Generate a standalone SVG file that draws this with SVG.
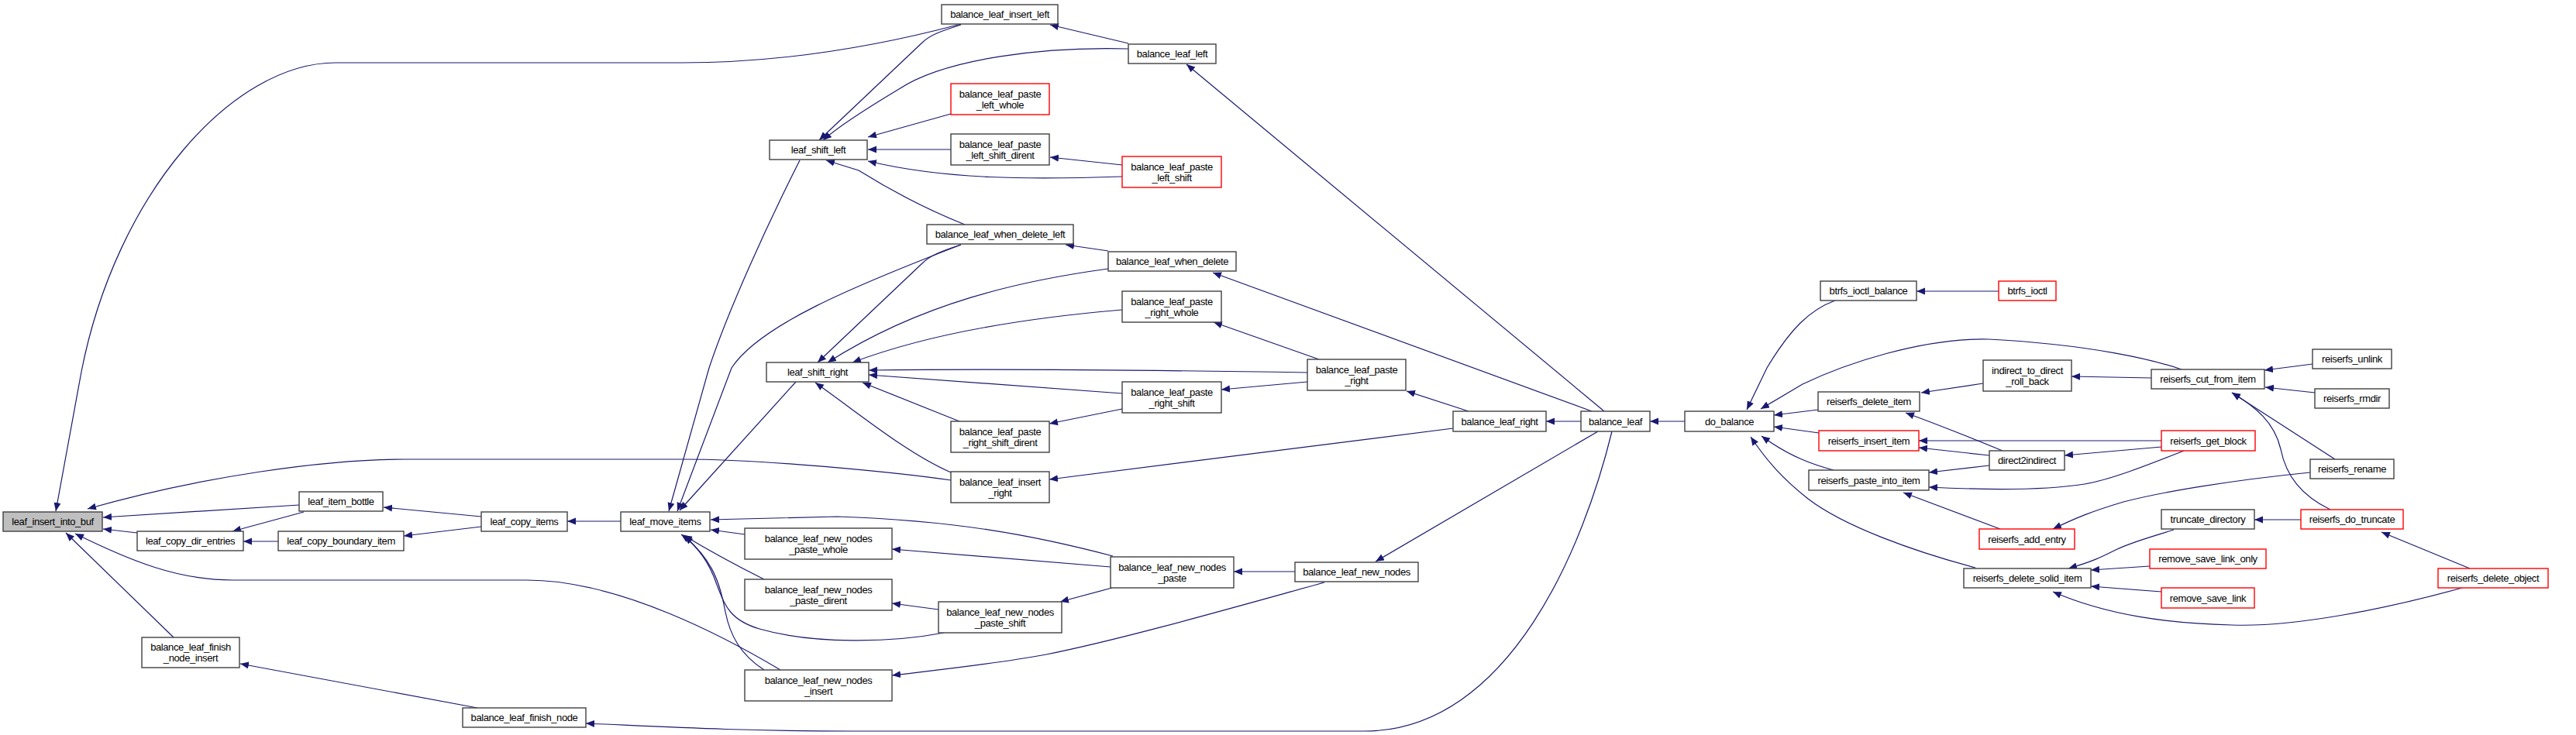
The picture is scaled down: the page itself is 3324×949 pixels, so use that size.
<svg xmlns="http://www.w3.org/2000/svg" width="3324" height="949" viewBox="0 0 3324 949">
<style>
.node rect{fill:#fff;stroke:#404040;stroke-width:1.4}
.red rect{stroke:#ff0000}
.sel rect{fill:#bfbfbf}
text{font-family:"Liberation Sans",Arial,sans-serif;font-size:13px;letter-spacing:-0.4px;text-anchor:middle;fill:#000}
#edges path{fill:none;stroke:#191970;stroke-width:1.2;marker-end:url(#a)}
</style>
<defs>
<marker id="a" markerUnits="userSpaceOnUse" markerWidth="12" markerHeight="10" refX="11" refY="4.5" orient="auto">
<path d="M0,0 L11,4.5 L0,9 z" fill="#191970"/>
</marker>
</defs>
<rect width="3324" height="949" fill="#fff"/>
<g id="edges">
<path d="M1240,31 C1150,55 1020,81 880,81 L433,81 C300,81 150,250 105,480 L72,660"/>
<path d="M386,652 L133,668"/>
<path d="M177,688 L133,683"/>
<path d="M1227,620 C1180,613 1000,593 880,593 L523,593 C420,593 260,615 113,657"/>
<path d="M1007,865 C940,825 800,749 680,749 L300,749 C230,749 170,725 97,689"/>
<path d="M224,823 L85,688"/>
<path d="M392,661 L300,686"/>
<path d="M359,699 L314,699"/>
<path d="M621,667 L495,655"/>
<path d="M621,680 L521,692"/>
<path d="M801,673 L732,673"/>
<path d="M1032,207 C990,290 940,400 915,475 L863,660"/>
<path d="M1240,316 C1100,370 980,420 944,475 L874,660"/>
<path d="M1027,493 L877,659"/>
<path d="M1436,718 C1330,690 1230,672 1080,667 L917,671"/>
<path d="M961,690 L917,684"/>
<path d="M986,748 C950,730 910,708 882,691"/>
<path d="M1218,817 C1150,830 1050,832 980,812 C940,800 935,780 925,755 C915,725 900,705 879,690"/>
<path d="M986,865 C955,845 942,820 936,790 C928,745 915,720 883,692"/>
<path d="M1240,32 C1215,40 1200,45 1190,55 L1057,181"/>
<path d="M1456,63 C1350,60 1220,75 1160,115 C1110,145 1080,165 1062,181"/>
<path d="M1227,147 L1120,177"/>
<path d="M1227,193 L1120,193"/>
<path d="M1448,228 C1330,232 1220,232 1120,208"/>
<path d="M1245,290 C1190,268 1140,240 1108,220 L1066,207"/>
<path d="M1456,56 L1355,32"/>
<path d="M2070,531 L1531,83"/>
<path d="M1448,213 L1355,203"/>
<path d="M1430,324 L1375,316"/>
<path d="M2054,531 L1565,352"/>
<path d="M1240,316 C1215,324 1200,330 1190,340 L1055,468"/>
<path d="M1430,347 C1320,362 1190,390 1068,468"/>
<path d="M1448,400 C1330,410 1200,430 1100,468"/>
<path d="M1687,481 C1500,478 1300,476 1121,478"/>
<path d="M1448,508 L1121,484"/>
<path d="M1238,544 L1113,494"/>
<path d="M1227,610 C1170,585 1110,535 1052,494"/>
<path d="M1702,464 L1566,416"/>
<path d="M1687,493 L1576,503"/>
<path d="M1448,528 L1354,547"/>
<path d="M1895,531 L1815,505"/>
<path d="M1875,553 L1354,619"/>
<path d="M2040,544 L1995,544"/>
<path d="M2062,557 L1775,725"/>
<path d="M2080,557 C2045,700 1950,944 1760,944 L1100,944 C950,944 850,938 756,934"/>
<path d="M616,914 L310,857"/>
<path d="M1671,738 L1592,738"/>
<path d="M1709,752 C1600,782 1450,825 1350,845 C1280,858 1210,865 1151,872"/>
<path d="M1433,732 L1151,709"/>
<path d="M1435,759 L1368,777"/>
<path d="M1211,787 L1151,779"/>
<path d="M2174,544 L2129,544"/>
<path d="M2368,388 C2335,400 2310,425 2280,475 L2254,529"/>
<path d="M2815,477 C2780,465 2700,445 2566,438 C2480,436 2380,470 2326,496 L2272,528"/>
<path d="M2346,529 L2289,536"/>
<path d="M2347,559 L2289,551"/>
<path d="M2366,607 C2340,600 2310,590 2273,563"/>
<path d="M2549,733 C2470,712 2380,680 2333,644 C2300,618 2280,595 2259,564"/>
<path d="M2579,376 L2473,376"/>
<path d="M2559,495 L2479,507"/>
<path d="M2776,488 L2673,486"/>
<path d="M2584,582 C2550,568 2500,548 2459,533"/>
<path d="M2789,569 L2476,569"/>
<path d="M2567,588 L2476,578"/>
<path d="M2789,577 L2664,588"/>
<path d="M2567,601 L2489,610"/>
<path d="M2818,582 C2760,605 2720,620 2690,625 C2640,633 2570,633 2489,629"/>
<path d="M2581,683 L2456,636"/>
<path d="M2981,610 C2880,620 2790,635 2740,648 C2700,660 2680,668 2649,683"/>
<path d="M2805,684 C2780,692 2750,700 2730,710 C2710,720 2700,725 2669,734"/>
<path d="M2774,731 L2698,736"/>
<path d="M2789,764 L2698,757"/>
<path d="M3177,759 C3080,786 2960,810 2880,807 C2800,805 2720,795 2649,764"/>
<path d="M2984,470 L2922,478"/>
<path d="M2987,507 L2923,500"/>
<path d="M3013,593 L2880,507"/>
<path d="M3007,658 C2970,640 2950,615 2943,580 C2935,545 2910,525 2880,507"/>
<path d="M2969,671 L2909,671"/>
<path d="M3187,734 L3073,687"/>
</g>
<g id="n1" class="node sel"><rect x="4" y="661" width="128" height="25"/><text x="68" y="678">leaf_insert_into_buf</text></g>
<g id="n2" class="node"><rect x="177" y="686" width="137" height="25"/><text x="245.5" y="703">leaf_copy_dir_entries</text></g>
<g id="n3" class="node"><rect x="386" y="635" width="108" height="25"/><text x="440" y="652">leaf_item_bottle</text></g>
<g id="n4" class="node"><rect x="359" y="686" width="162" height="25"/><text x="440" y="703">leaf_copy_boundary_item</text></g>
<g id="n5" class="node"><rect x="183" y="823" width="126" height="39"/><text x="246" y="840">balance_leaf_finish</text><text x="246" y="854">_node_insert</text></g>
<g id="n6" class="node"><rect x="621" y="661" width="111" height="25"/><text x="676.5" y="678">leaf_copy_items</text></g>
<g id="n7" class="node"><rect x="801" y="661" width="115" height="25"/><text x="858.5" y="678">leaf_move_items</text></g>
<g id="n8" class="node"><rect x="597" y="914" width="159" height="25"/><text x="676.5" y="931">balance_leaf_finish_node</text></g>
<g id="n9" class="node"><rect x="993" y="181" width="126" height="25"/><text x="1056" y="198">leaf_shift_left</text></g>
<g id="n10" class="node"><rect x="989" y="468" width="132" height="25"/><text x="1055" y="485">leaf_shift_right</text></g>
<g id="n11" class="node"><rect x="961" y="682" width="190" height="40"/><text x="1056" y="699.5">balance_leaf_new_nodes</text><text x="1056" y="713.5">_paste_whole</text></g>
<g id="n12" class="node"><rect x="961" y="748" width="190" height="40"/><text x="1056" y="765.5">balance_leaf_new_nodes</text><text x="1056" y="779.5">_paste_dirent</text></g>
<g id="n13" class="node"><rect x="961" y="865" width="190" height="40"/><text x="1056" y="882.5">balance_leaf_new_nodes</text><text x="1056" y="896.5">_insert</text></g>
<g id="n14" class="node"><rect x="1215" y="6" width="150" height="25"/><text x="1290" y="23">balance_leaf_insert_left</text></g>
<g id="n15" class="node"><rect x="1456" y="57" width="113" height="25"/><text x="1512.5" y="74">balance_leaf_left</text></g>
<g id="n16" class="node red"><rect x="1227" y="108" width="127" height="40"/><text x="1290.5" y="125.5">balance_leaf_paste</text><text x="1290.5" y="139.5">_left_whole</text></g>
<g id="n17" class="node"><rect x="1227" y="173" width="127" height="40"/><text x="1290.5" y="190.5">balance_leaf_paste</text><text x="1290.5" y="204.5">_left_shift_dirent</text></g>
<g id="n18" class="node red"><rect x="1448" y="202" width="128" height="40"/><text x="1512" y="219.5">balance_leaf_paste</text><text x="1512" y="233.5">_left_shift</text></g>
<g id="n19" class="node"><rect x="1196" y="290" width="189" height="25"/><text x="1290.5" y="307">balance_leaf_when_delete_left</text></g>
<g id="n20" class="node"><rect x="1430" y="325" width="165" height="25"/><text x="1512.5" y="342">balance_leaf_when_delete</text></g>
<g id="n21" class="node"><rect x="1448" y="376" width="128" height="40"/><text x="1512" y="393.5">balance_leaf_paste</text><text x="1512" y="407.5">_right_whole</text></g>
<g id="n22" class="node"><rect x="1448" y="493" width="128" height="40"/><text x="1512" y="510.5">balance_leaf_paste</text><text x="1512" y="524.5">_right_shift</text></g>
<g id="n23" class="node"><rect x="1227" y="544" width="127" height="40"/><text x="1290.5" y="561.5">balance_leaf_paste</text><text x="1290.5" y="575.5">_right_shift_dirent</text></g>
<g id="n24" class="node"><rect x="1227" y="609" width="127" height="40"/><text x="1290.5" y="626.5">balance_leaf_insert</text><text x="1290.5" y="640.5">_right</text></g>
<g id="n25" class="node"><rect x="1433" y="719" width="159" height="40"/><text x="1512.5" y="736.5">balance_leaf_new_nodes</text><text x="1512.5" y="750.5">_paste</text></g>
<g id="n26" class="node"><rect x="1211" y="777" width="159" height="40"/><text x="1290.5" y="794.5">balance_leaf_new_nodes</text><text x="1290.5" y="808.5">_paste_shift</text></g>
<g id="n27" class="node"><rect x="1687" y="464" width="127" height="40"/><text x="1750.5" y="481.5">balance_leaf_paste</text><text x="1750.5" y="495.5">_right</text></g>
<g id="n28" class="node"><rect x="1875" y="531" width="120" height="26"/><text x="1935" y="548.5">balance_leaf_right</text></g>
<g id="n29" class="node"><rect x="2040" y="531" width="89" height="26"/><text x="2084.5" y="548.5">balance_leaf</text></g>
<g id="n30" class="node"><rect x="1671" y="726" width="159" height="25"/><text x="1750.5" y="743">balance_leaf_new_nodes</text></g>
<g id="n31" class="node"><rect x="2174" y="531" width="115" height="26"/><text x="2231.5" y="548.5">do_balance</text></g>
<g id="n32" class="node"><rect x="2349" y="363" width="124" height="25"/><text x="2411" y="380">btrfs_ioctl_balance</text></g>
<g id="n33" class="node red"><rect x="2579" y="363" width="74" height="25"/><text x="2616" y="380">btrfs_ioctl</text></g>
<g id="n34" class="node"><rect x="2559" y="465" width="114" height="40"/><text x="2616" y="482.5">indirect_to_direct</text><text x="2616" y="496.5">_roll_back</text></g>
<g id="n35" class="node"><rect x="2346" y="506" width="131" height="25"/><text x="2411.5" y="523">reiserfs_delete_item</text></g>
<g id="n36" class="node red"><rect x="2347" y="556" width="129" height="26"/><text x="2411.5" y="573.5">reiserfs_insert_item</text></g>
<g id="n37" class="node"><rect x="2567" y="582" width="97" height="25"/><text x="2615.5" y="599">direct2indirect</text></g>
<g id="n38" class="node"><rect x="2334" y="607" width="155" height="26"/><text x="2411.5" y="624.5">reiserfs_paste_into_item</text></g>
<g id="n39" class="node red"><rect x="2554" y="683" width="123" height="26"/><text x="2615.5" y="700.5">reiserfs_add_entry</text></g>
<g id="n40" class="node"><rect x="2534" y="734" width="164" height="25"/><text x="2616" y="751">reiserfs_delete_solid_item</text></g>
<g id="n41" class="node"><rect x="2776" y="477" width="146" height="25"/><text x="2849" y="494">reiserfs_cut_from_item</text></g>
<g id="n42" class="node"><rect x="2984" y="451" width="102" height="25"/><text x="3035" y="468">reiserfs_unlink</text></g>
<g id="n43" class="node"><rect x="2987" y="502" width="96" height="25"/><text x="3035" y="519">reiserfs_rmdir</text></g>
<g id="n44" class="node red"><rect x="2789" y="556" width="121" height="26"/><text x="2849.5" y="573.5">reiserfs_get_block</text></g>
<g id="n45" class="node"><rect x="2981" y="593" width="108" height="25"/><text x="3035" y="610">reiserfs_rename</text></g>
<g id="n46" class="node"><rect x="2789" y="658" width="120" height="25"/><text x="2849" y="675">truncate_directory</text></g>
<g id="n47" class="node red"><rect x="2969" y="658" width="132" height="25"/><text x="3035" y="675">reiserfs_do_truncate</text></g>
<g id="n48" class="node red"><rect x="2774" y="709" width="150" height="25"/><text x="2849" y="726">remove_save_link_only</text></g>
<g id="n49" class="node red"><rect x="2789" y="759" width="120" height="26"/><text x="2849" y="776.5">remove_save_link</text></g>
<g id="n50" class="node red"><rect x="3146" y="734" width="142" height="25"/><text x="3217" y="751">reiserfs_delete_object</text></g>
</svg>
